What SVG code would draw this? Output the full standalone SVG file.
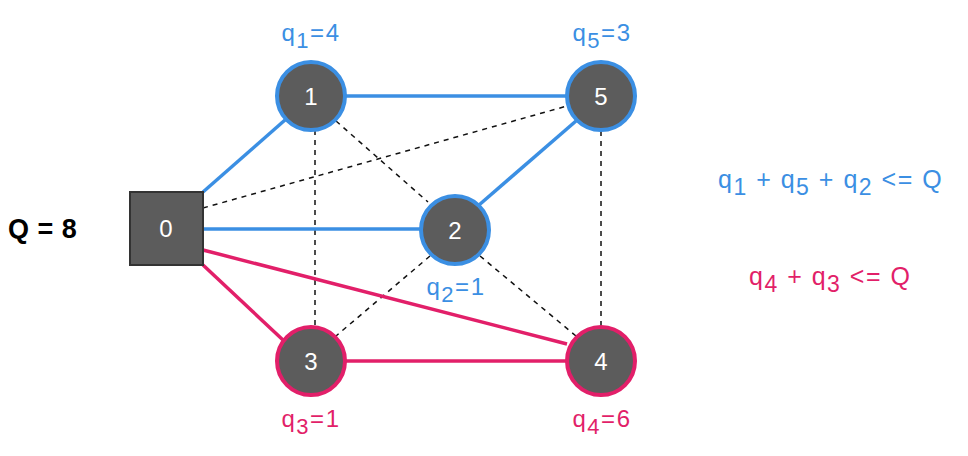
<svg xmlns="http://www.w3.org/2000/svg" width="968" height="456" viewBox="0 0 968 456">
<style>
text{font-family:"Liberation Sans",Arial,sans-serif}
.b{stroke:#3b8fe3;stroke-width:3.5;fill:none}
.p{stroke:#e21f69;stroke-width:3.5;fill:none}
.d{stroke:#111;stroke-width:1.5;stroke-dasharray:5,5;fill:none}
.nb{fill:#5c5c5c;stroke:#3b8fe3;stroke-width:4}
.np{fill:#5c5c5c;stroke:#e21f69;stroke-width:4}
.nl{fill:#fff;font-size:24px;text-anchor:middle}
.lb{fill:#3b8fe3;font-size:24px;text-anchor:middle;letter-spacing:1.5px}
.lp{fill:#e21f69;font-size:24px;text-anchor:middle;letter-spacing:1.5px}
.s{font-size:22px}
.eq{font-size:25px;letter-spacing:1.5px}
.es{font-size:23px}
</style>
<rect width="968" height="456" fill="#fff"/>
<g id="connectors">
<line class="d" x1="315" y1="130" x2="315" y2="326"/>
<line class="d" x1="336" y1="121" x2="428" y2="202"/>
<line class="d" x1="203" y1="208" x2="567" y2="106"/>
<line class="d" x1="430" y1="256" x2="336" y2="336"/>
<line class="d" x1="480" y1="256" x2="576" y2="336"/>
<line class="d" x1="601" y1="131" x2="601" y2="326"/>
<line class="b" x1="203" y1="192" x2="285" y2="120"/>
<line class="b" x1="346" y1="96" x2="566" y2="96"/>
<line class="b" x1="203" y1="229" x2="420" y2="229"/>
<line class="b" x1="479" y1="205" x2="576" y2="121"/>
<line class="p" x1="203" y1="265" x2="283" y2="340"/>
<line class="p" x1="203" y1="250" x2="567" y2="344"/>
<line class="p" x1="346" y1="361" x2="566" y2="361"/>
</g>
<g id="node0"><rect x="130" y="192" width="73" height="73" fill="#5c5c5c" stroke="#333" stroke-width="2"/><text class="nl" x="166" y="237">0</text></g>
<g id="node1"><circle class="nb" cx="311" cy="96" r="34"/><text class="nl" x="311" y="105">1</text><text class="lb" x="311" y="41">q<tspan class="s" dy="7">1</tspan><tspan dy="-7">=4</tspan></text></g>
<g id="node5"><circle class="nb" cx="601" cy="96" r="34"/><text class="nl" x="601" y="105">5</text><text class="lb" x="602" y="41">q<tspan class="s" dy="7">5</tspan><tspan dy="-7">=3</tspan></text></g>
<g id="node2"><circle class="nb" cx="455" cy="230" r="34"/><text class="nl" x="455" y="239">2</text><text class="lb" x="456" y="295">q<tspan class="s" dy="7">2</tspan><tspan dy="-7">=1</tspan></text></g>
<g id="node3"><circle class="np" cx="311" cy="361" r="34"/><text class="nl" x="311" y="370">3</text><text class="lp" x="311" y="427">q<tspan class="s" dy="7">3</tspan><tspan dy="-7">=1</tspan></text></g>
<g id="node4"><circle class="np" cx="601" cy="361" r="34"/><text class="nl" x="601" y="370">4</text><text class="lp" x="602" y="427">q<tspan class="s" dy="7">4</tspan><tspan dy="-7">=6</tspan></text></g>
<g id="labels">
<text x="8" y="238" font-size="27" font-weight="bold" fill="#000" word-spacing="1">Q = 8</text>
<text class="eq" x="718" y="188" fill="#3b8fe3">q<tspan class="es" dy="7">1</tspan><tspan dy="-7"> + q</tspan><tspan class="es" dy="7">5</tspan><tspan dy="-7"> + q</tspan><tspan class="es" dy="7">2</tspan><tspan dy="-7"> &lt;= Q</tspan></text>
<text class="eq" x="749" y="285" fill="#e21f69">q<tspan class="es" dy="7">4</tspan><tspan dy="-7"> + q</tspan><tspan class="es" dy="7">3</tspan><tspan dy="-7"> &lt;= Q</tspan></text>
</g>
</svg>
